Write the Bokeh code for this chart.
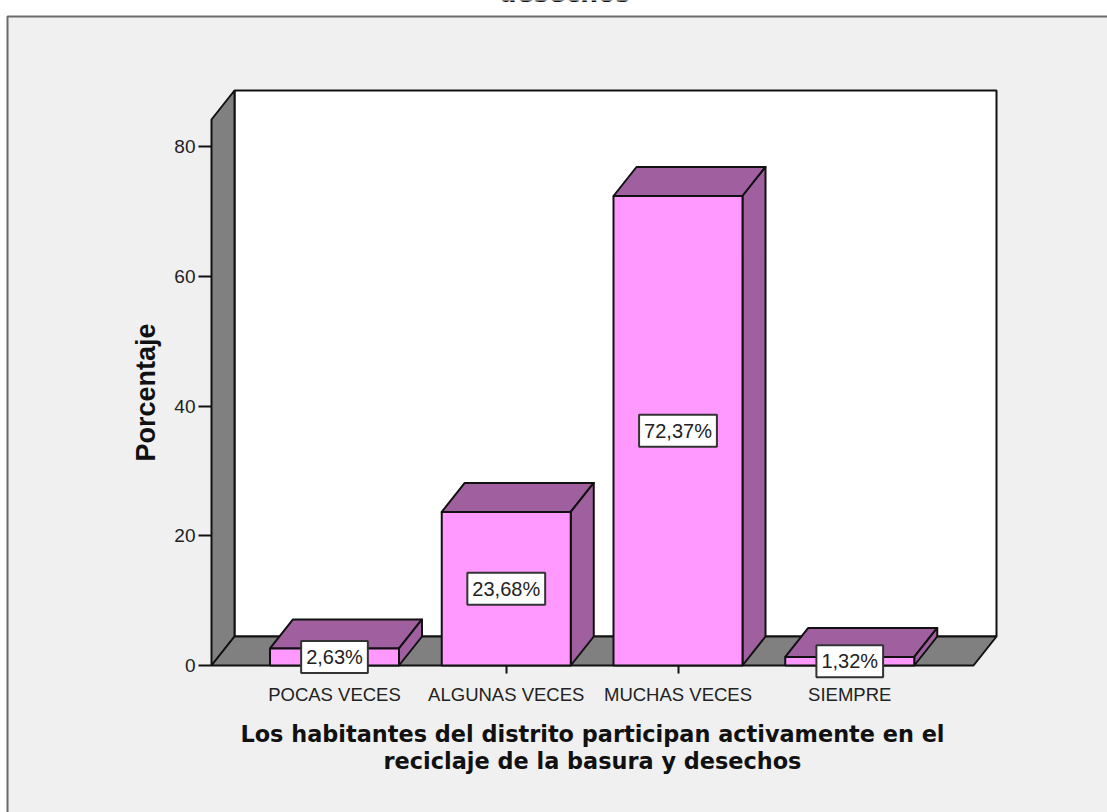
from bokeh.embed import file_html
from bokeh.resources import INLINE
from bokeh.plotting import figure
from bokeh.models import FixedTicker, Label

categories = ["POCAS VECES", "ALGUNAS VECES", "MUCHAS VECES", "SIEMPRE"]
percent = [2.63, 23.68, 72.37, 1.32]
percent_labels = ["2,63%", "23,68%", "72,37%", "1,32%"]
y_ticks = [0, 20, 40, 60, 80]
y_title = "Porcentaje"
x_title_lines = ["Los habitantes del distrito participan activamente en el",
                 "reciclaje de la basura y desechos"]
top_title = "desechos"

W, H = 1107, 812
FRAME_L, FRAME_B = 211, 665
PX_X = 171.75            # pixels per category step
PX_Y = 6.4875            # pixels per percentage point
X0 = 334                 # pixel of the first category centre

def xd(px): return (px - X0) / PX_X
def yd(py): return (FRAME_B - py) / PX_Y

HALF = 64.5 / PX_X
DX = 23 / PX_X
DY = 29 / PX_Y
WALL_TOP = yd(119)
FLOOR_L, FLOOR_R = xd(FRAME_L), xd(973)

INK = "#111111"
TEXT = "#222222"
GREY = "#808080"
FRONT = "#ff99ff"
DARK = "#a0609f"
BG = "#f0f0f0"

p = figure(width=W, height=H, output_backend="svg", toolbar_location=None,
           x_range=(xd(0), xd(W)), y_range=(yd(H), yd(0)),
           min_border=0)
p.border_fill_color = "white"
p.background_fill_color = "white"
p.outline_line_color = None
p.grid.visible = False

p.quad(left=[xd(7)], right=[xd(W + 20)], top=[yd(16)], bottom=[yd(H + 20)],
       fill_color=BG, line_color="#6b6b6b", line_width=2)

# back wall, left wall, floor
p.quad(left=[FLOOR_L + DX], right=[FLOOR_R + DX], bottom=[DY], top=[WALL_TOP + DY],
       fill_color="white", line_color=INK, line_width=2)
p.patch([FLOOR_L, FLOOR_L + DX, FLOOR_L + DX, FLOOR_L], [0, DY, WALL_TOP + DY, WALL_TOP],
        fill_color=GREY, line_color=INK, line_width=2)
p.patch([FLOOR_L, FLOOR_R, FLOOR_R + DX, FLOOR_L + DX], [0, 0, DY, DY],
        fill_color=GREY, line_color=INK, line_width=2)

# bars
for i, v in enumerate(percent):
    l, r = i - HALF, i + HALF
    p.patch([l, r, r + DX, l + DX], [v, v, v + DY, v + DY],
            fill_color=DARK, line_color=INK, line_width=2, line_join="round")
    p.patch([r, r + DX, r + DX, r], [0, DY, v + DY, v],
            fill_color=DARK, line_color=INK, line_width=2, line_join="round")
    p.quad(left=[l], right=[r], bottom=[0], top=[v],
           fill_color=FRONT, line_color=INK, line_width=2)

# axes: drawn at the chart's own zero lines
ya = p.yaxis[0]
ya.fixed_location = FLOOR_L
ya.ticker = FixedTicker(ticks=y_ticks)
ya.axis_line_color = None
ya.major_tick_in = 0
ya.major_tick_out = 13
ya.minor_tick_line_color = None
ya.major_tick_line_color = INK
ya.major_tick_line_width = 2
ya.major_label_text_font = "Liberation Sans"
ya.major_label_text_font_size = "19px"
ya.major_label_text_color = TEXT
ya.major_label_standoff = 3

xa = p.xaxis[0]
xa.fixed_location = 0
xa.ticker = FixedTicker(ticks=list(range(len(categories))))
xa.major_label_overrides = {i: c for i, c in enumerate(categories)}
xa.axis_line_color = None
xa.major_tick_in = 0
xa.major_tick_out = 8
xa.minor_tick_line_color = None
xa.major_tick_line_color = INK
xa.major_tick_line_width = 2
xa.major_label_text_font = "Liberation Sans"
xa.major_label_text_font_size = "18.5px"
xa.major_label_text_color = TEXT
xa.major_label_standoff = 10

for i, (v, t) in enumerate(zip(percent, percent_labels)):
    p.add_layout(Label(x=i, y=v / 2, text=t, text_align="center", text_baseline="middle",
                       text_font="Liberation Sans", text_font_size="20px", text_color=TEXT,
                       background_fill_color="white", border_line_color="#333333",
                       border_line_width=2, padding=5))

# titles
BOLD = dict(text_font_style="bold", text_color="#111111",
            text_align="center", text_baseline="middle")
p.add_layout(Label(x=xd(145), y=yd(392), text=y_title, angle=90, angle_units="deg",
                   text_font="Liberation Sans", text_font_size="27px", **BOLD))
for line, py in zip(x_title_lines, (733, 760)):
    p.add_layout(Label(x=xd(592), y=yd(py), text=line, text_font="DejaVu Sans",
                       text_font_size="22.4px", **BOLD))
p.add_layout(Label(x=xd(564), y=yd(-7), text=top_title, text_font="DejaVu Sans",
                   text_font_size="25px", **BOLD))

open("out.html", "w").write(file_html(p, INLINE))
